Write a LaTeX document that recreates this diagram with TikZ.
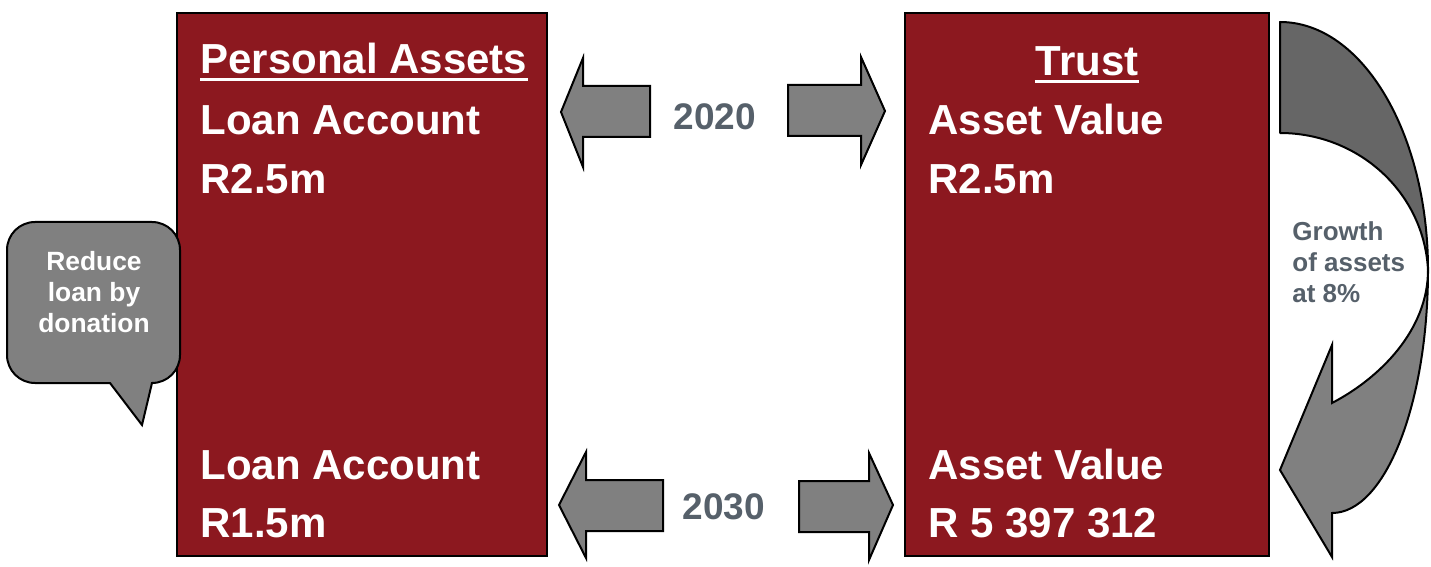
\documentclass[tikz,border=0pt]{standalone}
\usepackage{fontspec}
\setmainfont{Liberation Sans}
\definecolor{boxred}{HTML}{8C181F}
\definecolor{arrowgrey}{HTML}{808080}
\definecolor{darkgrey}{HTML}{666666}
\definecolor{slate}{HTML}{56606A}
\tikzset{
  panel/.style={draw=black, line width=1pt, fill=boxred, inner sep=0pt},
  bigtext/.style={text=white, font=\bfseries\fontsize{21}{24}\selectfont, inner sep=0pt},
  yeartext/.style={text=slate, font=\bfseries\fontsize{18.5}{21}\selectfont, inner sep=0pt},
  blockarrow/.style={draw=black, line width=1pt, fill=arrowgrey, line join=miter},
  smalltext/.style={font=\bfseries\fontsize{13.2}{15.3}\selectfont, inner sep=0pt, align=center}
}
\begin{document}
\begin{tikzpicture}[x=0.5pt,y=-0.5pt]
\useasboundingbox (0,0) rectangle (1431,567);

% panels
\node[panel, minimum width=185pt, minimum height=271.5pt] (pa) at (362,284.5) {};
\node[panel, minimum width=182pt, minimum height=271.5pt] (tr) at (1087,284.5) {};

% left panel texts
\node[bigtext, anchor=base west] (pah) at (200,74) {Personal Assets};
\draw[white, line width=1.5pt] ([yshift=-3pt]pah.base west) -- ([yshift=-3pt]pah.base east);
\node[bigtext, anchor=base west] (la1) at (200,135) {Loan Account};
\node[bigtext, anchor=base west] (lv1) at (200,193) {R2.5m};
\node[bigtext, anchor=base west] (la2) at (200,479) {Loan Account};
\node[bigtext, anchor=base west] (lv2) at (200,537) {R1.5m};

% right panel texts
\node[bigtext, anchor=base] (trh) at (1087,76) {Trust};
\draw[white, line width=1.5pt] ([yshift=-3pt]trh.base west) -- ([yshift=-3pt]trh.base east);
\node[bigtext, anchor=base west] (av1) at (928,135) {Asset Value};
\node[bigtext, anchor=base west] (avv1) at (928,193) {R2.5m};
\node[bigtext, anchor=base west] (av2) at (928,479) {Asset Value};
\node[bigtext, anchor=base west] (avv2) at (928,537) {R 5 397 312};

% year arrows 2020
\draw[blockarrow] (561,112) -- (583,58) -- (583,86) -- (650,86) -- (650,137) -- (583,137) -- (583,167) -- cycle;
\draw[blockarrow] (885,111) -- (861,57) -- (861,85) -- (788,85) -- (788,136) -- (861,136) -- (861,165) -- cycle;
\node[yeartext] (y1) at (715,117) {2020};

% year arrows 2030
\draw[blockarrow] (559,505) -- (586,452) -- (586,480) -- (663,480) -- (663,531) -- (586,531) -- (586,558) -- cycle;
\draw[blockarrow] (893,505) -- (869,453) -- (869,481) -- (799,481) -- (799,532) -- (869,532) -- (869,560) -- cycle;
\node[yeartext] (y2) at (724,507) {2030};

% callout
\draw[draw=black, line width=1pt, fill=arrowgrey, line join=miter]
  (35,222) -- (152,222) arc[start angle=-90, end angle=0, radius=28]
  -- (180,355) arc[start angle=0, end angle=90, radius=28]
  -- (142,425) -- (110,383) -- (35,383)
  arc[start angle=90, end angle=180, radius=28]
  -- (7,250) arc[start angle=180, end angle=270, radius=28] -- cycle;
\node[smalltext, text=white] (cl) at (94,292) {Reduce\\loan by\\donation};

% curved growth arrow
\draw[draw=black, line width=1pt, fill=darkgrey, line join=round]
  (1280,22) .. controls (1362,22) and (1428,133) .. (1428,270)
  .. controls (1424,192) and (1358,133) .. (1280,133) -- cycle;
\draw[draw=black, line width=1pt, fill=arrowgrey, line join=miter]
  (1428,270) .. controls (1428,404) and (1385,513) .. (1332,513)
  -- (1332,557) -- (1280,470) -- (1332,345) -- (1332,403)
  .. controls (1380,378) and (1428,330) .. (1428,270) -- cycle;
\node[smalltext, text=slate, align=left, anchor=north west, font=\bfseries\fontsize{13}{15.5}\selectfont] (gr) at (1292,221) {Growth\\of assets\\at 8\%};
\end{tikzpicture}
\end{document}
